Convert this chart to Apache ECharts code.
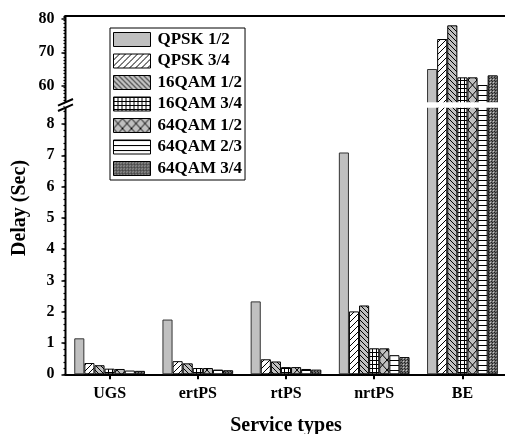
<!DOCTYPE html>
<html>
<head>
<meta charset="utf-8">
<script src="https://cdn.jsdelivr.net/npm/echarts@6/dist/echarts.min.js"></script>
<style>
  html, body { margin: 0; padding: 0; background: #fff; }
  #chart { width: 505px; height: 434px; }
</style>
</head>
<body>
<div id="chart"></div>
<script>
// Service classes on the x axis
const categories = ['UGS', 'ertPS', 'rtPS', 'nrtPS', 'BE'];
// Modulation / coding schemes (one bar series each)
const schemes = ['QPSK 1/2', 'QPSK 3/4', '16QAM 1/2', '16QAM 3/4', '64QAM 1/2', '64QAM 2/3', '64QAM 3/4'];
// Delay in seconds per service class
const qpsk12   = [1.15, 1.75, 2.33, 7.09, 65.0];
const qpsk34   = [0.36, 0.42, 0.48, 2.01, 74.0];
const qam16_12 = [0.29, 0.35, 0.41, 2.20, 78.1];
const qam16_34 = [0.18, 0.20, 0.23, 0.83, 62.5];
const qam64_12 = [0.17, 0.20, 0.23, 0.83, 62.5];
const qam64_23 = [0.12, 0.15, 0.17, 0.61, 60.2];
const qam64_34 = [0.11, 0.13, 0.15, 0.55, 63.1];
// Tick labels of the two y-axis segments
const lowerTicks = [0, 1, 2, 3, 4, 5, 6, 7, 8];
const upperTicks = [60, 70, 80];

const seriesValues = [qpsk12, qpsk34, qam16_12, qam16_34, qam64_12, qam64_23, qam64_34];

const FONT = '"Liberation Serif", "Times New Roman", serif';
const GRAY = '#c0c0c0';

// Broken axis layout: the two grids overlap the white gap slightly,
// the gap itself is painted over so clipped bar edges stay hidden
const LEFT = 65.5, RIGHT = -1.5;
const GAP_TOP = 102.3, GAP_BOTTOM = 107.7;
const UP_TOP = 16, UP_BOTTOM = 103.5;
const LO_TOP = 106.5, LO_BOTTOM = 374.3;
const UP_MIN = 54.65, UP_MAX = 80.9;
const LO_MIN = 0, LO_MAX = 8.56;

function tile(w, h, bg, draw) {
  const c = document.createElement('canvas');
  c.width = w; c.height = h;
  const g = c.getContext('2d');
  g.fillStyle = bg; g.fillRect(0, 0, w, h);
  g.strokeStyle = '#000'; g.fillStyle = '#000'; g.lineWidth = 1;
  draw(g, w, h);
  return { image: c, repeat: 'repeat' };
}
function line(g, pts) {
  g.beginPath();
  for (let i = 0; i < pts.length; i += 4) { g.moveTo(pts[i], pts[i + 1]); g.lineTo(pts[i + 2], pts[i + 3]); }
  g.stroke();
}

const fills = [
  GRAY,
  tile(6, 6, '#fff', g => line(g, [-1, 7, 7, -1, -1, 1, 1, -1, 5, 7, 7, 5])),
  tile(5, 5, GRAY, g => line(g, [-1, -1, 6, 6, 4, -1, 6, 1, -1, 4, 1, 6])),
  tile(4, 4, '#fff', g => { g.fillRect(0, 0, 4, 1); g.fillRect(0, 0, 1, 4); }),
  tile(9, 10, GRAY, g => line(g, [0, 0, 9, 10, 9, 0, 0, 10])),
  tile(5, 5, '#fff', g => { g.fillRect(0, 0, 5, 1); }),
  tile(3, 3, '#6e6e6e', g => { g.fillStyle = '#222'; g.fillRect(0, 0, 1, 1); g.fillRect(2, 2, 1, 1); g.fillStyle = '#c8c8c8'; g.fillRect(1, 1, 1, 1); })
];

function barSeries(idx) {
  return schemes.map((name, i) => ({
    type: 'bar',
    name: name,
    xAxisIndex: idx,
    yAxisIndex: idx,
    data: seriesValues[i],
    barWidth: 10.1,
    barGap: '0%',
    clip: true,
    itemStyle: { color: fills[i], borderColor: i === 0 ? '#333' : '#000', borderWidth: 1 },
    emphasis: { disabled: true }
  }));
}

const labelStyle = { fontFamily: FONT, fontWeight: 'bold', fontSize: 16, color: '#000' };

function mainY(grid, min, max, ticks) {
  return {
    type: 'value', gridIndex: grid, position: 'left', min: min, max: max,
    axisLine: { show: false },
    axisTick: { show: true, inside: false, length: 4, customValues: ticks, lineStyle: { color: '#000', width: 1.5 } },
    axisLabel: Object.assign({ show: true, margin: 11, customValues: ticks }, labelStyle),
    splitLine: { show: false }
  };
}
function minorY(grid, min, max, step) {
  return {
    type: 'value', gridIndex: grid, position: 'left', min: min, max: max, interval: step,
    axisLine: { show: false },
    axisTick: { show: true, inside: false, length: 2, lineStyle: { color: '#000', width: 1.2 } },
    axisLabel: { show: false },
    splitLine: { show: false }
  };
}

const chart = echarts.init(document.getElementById('chart'), null, { renderer: 'canvas' });

const breakMark = (y) => ({
  type: 'line', silent: true, z: 100,
  shape: { x1: LEFT - 7.5, y1: y + 3.3, x2: LEFT + 7.5, y2: y - 3.3 },
  style: { stroke: '#000', lineWidth: 2 }
});
const axisSegment = (y1, y2) => ({
  type: 'line', silent: true, z: 99,
  shape: { x1: LEFT, y1: y1, x2: LEFT, y2: y2 },
  style: { stroke: '#000', lineWidth: 2 }
});

chart.setOption({
  animation: false,
  backgroundColor: '#fff',
  grid: [
    { left: LEFT, right: RIGHT, top: UP_TOP, height: UP_BOTTOM - UP_TOP, containLabel: false, outerBoundsMode: 'none' },
    { left: LEFT, right: RIGHT, top: LO_TOP, height: LO_BOTTOM - LO_TOP, containLabel: false, outerBoundsMode: 'none' }
  ],
  xAxis: [
    {
      type: 'category', gridIndex: 0, data: categories, position: 'top', boundaryGap: true,
      axisLine: { show: true, onZero: false, lineStyle: { color: '#000', width: 2 } },
      axisTick: { show: false }, axisLabel: { show: false }, splitLine: { show: false }
    },
    {
      type: 'category', gridIndex: 1, data: categories, position: 'bottom', boundaryGap: true,
      name: 'Service types', nameLocation: 'middle', nameGap: 42,
      nameTextStyle: { fontFamily: FONT, fontWeight: 'bold', fontSize: 20, color: '#000' },
      axisLine: { show: true, onZero: false, lineStyle: { color: '#000', width: 2 } },
      axisTick: { show: true, alignWithLabel: true, length: 5, lineStyle: { color: '#000', width: 2 } },
      axisLabel: Object.assign({ margin: 12, interval: 0 }, labelStyle),
      splitLine: { show: false }
    }
  ],
  yAxis: [
    mainY(0, UP_MIN, UP_MAX, upperTicks),
    mainY(1, LO_MIN, LO_MAX, lowerTicks),
    minorY(0, UP_MIN, UP_MAX, 1),
    minorY(1, LO_MIN, LO_MAX, 0.2)
  ],
  legend: {
    z: 150,
    data: schemes,
    orient: 'vertical',
    left: 110, top: 28,
    padding: [3, 3, 3, 3],
    itemWidth: 37, itemHeight: 14, itemGap: 4.5,
    icon: 'rect',
    backgroundColor: '#fff',
    borderColor: '#000', borderWidth: 1,
    selectedMode: false,
    itemStyle: { borderColor: '#000', borderWidth: 1 },
    textStyle: { fontFamily: FONT, fontWeight: 'bold', fontSize: 17, color: '#000', padding: [0, 0, 0, 2] }
  },
  graphic: [
    {
      type: 'text', x: 19.5, y: 208, rotation: Math.PI / 2, silent: true,
      style: { text: 'Delay (Sec)', font: 'bold 20px ' + FONT, fill: '#000', align: 'center', verticalAlign: 'middle' }
    },
    {
      type: 'rect', silent: true, z: 98,
      shape: { x: LEFT - 1, y: GAP_TOP, width: 520, height: GAP_BOTTOM - GAP_TOP },
      style: { fill: '#fff' }
    },
    axisSegment(UP_TOP - 1, GAP_TOP),
    axisSegment(GAP_BOTTOM, LO_BOTTOM + 1),
    breakMark(GAP_TOP),
    breakMark(GAP_BOTTOM)
  ],
  series: barSeries(0).concat(barSeries(1))
});
</script>
</body>
</html>
